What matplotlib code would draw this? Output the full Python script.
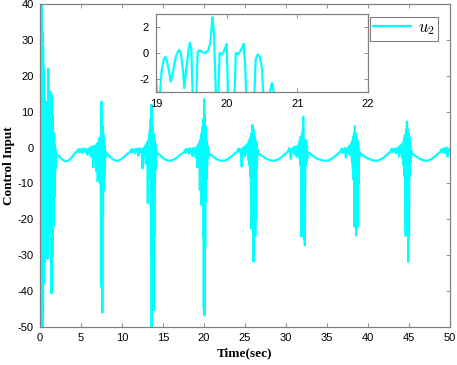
import numpy as np
import matplotlib.pyplot as plt

plt.rcParams['font.family'] = ['Liberation Sans', 'DejaVu Sans']
plt.rcParams['mathtext.fontset'] = 'cm'
plt.rcParams['axes.unicode_minus'] = False

# control signal u2, one burst cycle per pair of lists
t_c0 = [0.00, 0.02, 0.04, 0.06, 0.08, 0.10, 0.12, 0.14, 0.16, 0.18, 0.20, 0.22, 0.24, 0.26,
        0.28, 0.30, 0.32, 0.34, 0.36, 0.38, 0.40, 0.42, 0.44, 0.46, 0.48, 0.50, 0.52, 0.54,
        0.56, 0.58, 0.60, 0.62, 0.64, 0.66, 0.68, 0.70, 0.72, 0.74, 0.76, 0.78, 0.80, 0.83,
        0.86, 0.89, 0.92, 0.95, 0.98, 1.01, 1.04, 1.07, 1.10, 1.13, 1.16, 1.19, 1.22, 1.25,
        1.28, 1.31, 1.34, 1.37, 1.40, 1.43, 1.46, 1.49, 1.52, 1.55, 1.58, 1.61, 1.64, 1.67,
        1.70, 1.73, 1.76, 1.79, 1.82, 1.85, 1.88,
        1.91, 1.95, 2.05, 2.2, 2.4, 2.6, 2.8, 3.0, 3.2, 3.4, 3.6, 3.8, 4.0, 4.2, 4.4, 4.6,
        4.7, 4.8, 4.9, 5.0, 5.1, 5.2, 5.3, 5.4, 5.5, 5.6, 5.7, 5.8, 5.9, 6.0, 6.1, 6.2, 6.3,
        6.4, 6.5, 6.6, 6.7]
u_c0 = [0, 45, -55, 44, -55, 41, -55, 38, -52, 42, -55, 35, -50, 30, -52, 25, -40, 32, -45,
        28, -32, 18, -38, 22, -22, 12.8, -30, 10, -20, 14, -32, 8, -25, 12.8, -12, 6, -18, 9,
        -20, 4, -15, 3, -10, 5, -31, 8, -20, 22, -24, 6, -14, 10, -8, 12, -24, 6, -12, 15.6,
        -18, 8, -40.6, 14.6, -12, 5, -30.5, 9, -16, 3, -22, 2, -9, 4, -14, 1, -11.5, 0, -6,
        -1, -1.8, -2.0, -2.2, -2.6, -3.1, -3.5, -3.7, -3.8, -3.7, -3.4, -2.9, -2.3, -1.7,
        -1.2, -1.0,
        -0.4, -1.3, -0.7, -1.2, -0.3, -1.5, -0.5, -1.0, -0.2, -1.4, -0.6, -2.0, -0.3, -1.1,
        -0.1, -2.5, 0.3, -1.0, -5.5, 0.5, -2.0]

t_c1 = [6.8, 6.85, 6.9, 6.95, 7.0, 7.05, 7.1, 7.15, 7.2, 7.25, 7.3, 7.35, 7.4, 7.44, 7.48,
        7.52, 7.56, 7.60, 7.64, 7.68, 7.72, 7.76, 7.80, 7.84, 7.88, 7.92, 7.96, 8.0, 8.05,
        8.3, 8.6, 8.9, 9.3, 9.7, 10.1, 10.5, 10.8, 11.0, 11.1, 11.2, 11.3, 11.4, 11.5, 11.6,
        11.7, 11.8, 11.9, 12.0, 12.1, 12.2, 12.3]
u_c1 = [-0.5, -6.7, 0.8, -3, 1.2, -9.5, 0.5, -4, 2.5, -7, 1.5, -10, 3, -38.8, 12.8, -25, 8,
        -46, 6.2, -19, 4, -12, 2, -8, 0.5, -5, -1, -2.5, -1.6,
        -2.0, -2.7, -3.3, -3.7, -3.5, -2.9, -2.1, -1.5, -1.2, -0.6, -1.3, -0.4, -1.1, -0.7,
        -1.6, -0.3, -1.0, -0.5, -2.2, -0.2, -1.2, -0.4]

t_c2 = [12.4, 12.5, 12.6, 12.7, 12.8, 12.9, 13.0, 13.05, 13.1, 13.15, 13.2, 13.25, 13.3,
        13.35, 13.4, 13.45, 13.5, 13.54, 13.58, 13.62, 13.66, 13.70, 13.74, 13.78, 13.82,
        13.86, 13.90, 13.94, 13.98, 14.02, 14.06, 14.10, 14.15, 14.2, 14.3,
        14.6, 14.9, 15.3, 15.8, 16.3, 16.7, 17.1, 17.4, 17.6, 17.7, 17.8, 17.9, 18.0, 18.1,
        18.2, 18.3, 18.4, 18.5, 18.6, 18.7, 18.8]
u_c2 = [-0.8, -5.8, -0.2, -2.5, 0.4, -4.5, 1.0, -3, 1.5, -15.5, 2.0, -6, 3.5, -9, 5, -4, 8,
        -30, 11.9, -55, 9, -22, 6, -14, 4, -45.3, 3, -25, 2, -10, 1, -6, -0.5, -2.5, -1.6,
        -2.0, -2.7, -3.4, -3.7, -3.4, -2.8, -2.0, -1.5, -1.2, -0.7, -1.4, -0.3, -1.0, -0.5,
        -1.7, -0.2, -1.1, -0.6, -2.4, -0.1, -1.0]

t_c3 = [18.9, 19.0, 19.1, 19.2, 19.3, 19.4, 19.45, 19.5, 19.55, 19.6, 19.65, 19.7, 19.75,
        19.8, 19.85, 19.9, 19.94, 19.98, 20.02, 20.06, 20.10, 20.14, 20.18, 20.22, 20.26,
        20.30, 20.34, 20.38, 20.42, 20.46, 20.5, 20.55, 20.6, 20.7,
        21.0, 21.4, 21.8, 22.3, 22.8, 23.3, 23.7, 24.0]
u_c3 = [-0.6, -2.8, 0.2, -5.5, 0.8, -3.5, 1.5, -11.8, 2.2, -6, 3.5, -16, 4.5, -9, 6, -25, 8,
        -45, 13.5, -46.7, 9, -28, 6, -15, 4, -9, 2, -5, 0.5, -3, -0.8, -2.2, -1.4, -1.8,
        -2.3, -3.0, -3.5, -3.7, -3.4, -2.6, -1.8, -1.2]

t_c4 = [24.1, 24.2, 24.3, 24.4, 24.5, 24.6, 24.7, 24.8, 24.9, 25.0, 25.1, 25.2, 25.3, 25.4,
        25.5, 25.55, 25.6, 25.65, 25.7, 25.75, 25.8, 25.85, 25.9, 25.95, 26.0, 26.05, 26.1,
        26.15, 26.2, 26.25, 26.3, 26.35, 26.4, 26.45, 26.5, 26.6,
        27.0, 27.5, 28.0, 28.5, 29.0, 29.5, 29.9, 30.2]
u_c4 = [-0.9, -0.3, -1.2, -0.5, -1.5, -5.3, -0.2, -1.8, 0.2, -2.5, 0.5, -1.5, 1.0, -3.5,
        1.8, -5, 2.5, -8, 3.0, -22.5, 4, -10, 6.3, -15, 4.5, -31.8, 4.9, -12, 3, -24.8, 2,
        -20.2, 1, -6, -0.5, -1.5,
        -2.2, -3.0, -3.5, -3.7, -3.4, -2.6, -1.8, -1.2]

t_c5 = [30.3, 30.4, 30.5, 30.6, 30.7, 30.8, 30.9, 31.0, 31.1, 31.2, 31.3, 31.4, 31.5, 31.6,
        31.65, 31.7, 31.75, 31.8, 31.85, 31.9, 31.95, 32.0, 32.05, 32.1, 32.15, 32.2, 32.25,
        32.3, 32.35, 32.4, 32.45, 32.5, 32.55, 32.6, 32.7, 32.8,
        33.2, 33.7, 34.3, 34.9, 35.4, 35.9, 36.3, 36.6]
u_c5 = [-0.8, -0.2, -1.4, -3.2, -0.4, -1.0, 0.0, -1.8, 0.3, -1.0, -2.5, 0.5, -1.2, 1.5, -3,
        2.0, -5, 3, -8, -24.8, 4, -12, 5, 8.6, 3, -25.4, 2, -27.2, 1.5, -5, 2, -4, 0.5, -3,
        -1.5, -1.4,
        -2.2, -3.0, -3.5, -3.7, -3.4, -2.6, -1.8, -1.2]

t_c6 = [36.7, 36.8, 36.9, 37.0, 37.1, 37.2, 37.3, 37.4, 37.5, 37.6, 37.7, 37.8, 37.9, 38.0,
        38.05, 38.1, 38.15, 38.2, 38.25, 38.3, 38.35, 38.4, 38.45, 38.5, 38.55, 38.6, 38.65,
        38.7, 38.75, 38.8, 38.85, 38.9, 39.0, 39.1,
        39.4, 39.9, 40.5, 41.0, 41.5, 42.0, 42.4, 42.7]
u_c6 = [-0.9, -0.3, -1.5, -0.6, -1.1, -0.1, -2.8, -0.5, -1.3, 0.2, -1.8, 0.6, -2.2, 1.2, -4,
        2, -6, 3, -9, 4, -22, 6, -12, 4, -24.5, 3, -8, 2, -22, 1, -10, -0.5, -2.5, -1.6,
        -2.2, -3.0, -3.5, -3.7, -3.4, -2.6, -1.8, -1.2]

t_c7 = [42.8, 42.9, 43.0, 43.1, 43.2, 43.3, 43.4, 43.5, 43.6, 43.7, 43.8, 43.9, 44.0, 44.1,
        44.2, 44.3, 44.35, 44.4, 44.45, 44.5, 44.55, 44.6, 44.65, 44.7, 44.75, 44.8, 44.85,
        44.9, 44.95, 45.0, 45.05, 45.1, 45.15, 45.2, 45.3, 45.4,
        45.7, 46.2, 46.7, 47.1, 47.6, 48.1, 48.5, 48.8, 48.9, 49.0, 49.1, 49.2, 49.3, 49.4,
        49.5, 49.6, 49.7, 49.8, 49.9, 50.0]
u_c7 = [-0.9, -0.3, -1.3, -0.5, -1.0, -0.2, -1.6, -0.4, -1.2, 0.1, -2.5, 0.4, -1.5, 0.8, -3,
        1.5, -5, 2.5, -8, 3.5, -14, -24.6, 5, -10, 7.2, -12, 5, -31.8, 4, -24.6, 3, -8, 1.5,
        -4, -1.0, -1.6,
        -2.2, -3.0, -3.5, -3.7, -3.4, -2.6, -1.8, -1.2, -0.8, -0.4, -1.3, -0.6, -0.2, -1.5,
        -0.5, 0.0, -2.5, -0.3, -1.0, -0.5]

# zoomed view, 19..22 s
t_zoom = [19.00, 19.02, 19.05, 19.08, 19.11, 19.13, 19.15, 19.18, 19.21, 19.24, 19.28,
          19.31, 19.33, 19.35, 19.38, 19.40, 19.43, 19.46, 19.48, 19.50, 19.52, 19.57,
          19.59, 19.62, 19.66, 19.70, 19.74, 19.77, 19.79, 19.80, 19.82, 19.85, 19.88,
          19.90, 19.93, 19.96, 19.98, 20.00, 20.02, 20.11, 20.13, 20.16, 20.19, 20.22,
          20.24, 20.26, 20.28, 20.39, 20.41, 20.44, 20.47, 20.50, 20.52, 20.60, 20.62,
          20.64, 20.66, 20.68, 20.80, 22.00]
u_zoom = [-2.0, -3.5, -3.5, -1.4, -0.5, -0.3, -0.5, -1.3, -2.2, -1.5, -0.3, 0.1, 0.25, 0.0,
          -1.2, -2.7, -1.2, 0.2, 0.8, 0.3, -3.5, -3.5, 0.1, 0.2, 0.05, 0.0, 0.2, 0.8, 2.2,
          2.75, 1.5, -3.5, -3.5, 0.0, -0.1, 0.1, 0.4, 0.7, -3.5, -3.5, 0.0, -0.1, 0.1, 0.4,
          0.7, -0.8, -3.5, -3.5, -0.5, -0.1, -0.3, -1.2, -3.5, -3.5, -2.8, -2.3, -2.8, -3.5,
          -3.6, -3.7]

t = np.concatenate([t_c0, t_c1, t_c2, t_c3, t_c4, t_c5, t_c6, t_c7])
u = np.concatenate([u_c0, u_c1, u_c2, u_c3, u_c4, u_c5, u_c6, u_c7])

cyan = '#00ffff'
frame = '#808080'

fig = plt.figure(figsize=(4.57, 3.65), dpi=100)
ax = fig.add_axes([40 / 457, 38 / 365, 410 / 457, 323 / 365])
ax.plot(t, u, color=cyan, lw=1.6, label='$u_2$')
ax.set_xlim(0, 50)
ax.set_ylim(-50, 40)
ax.set_xticks(np.arange(0, 51, 5))
ax.set_yticks(np.arange(-50, 41, 10))
ax.tick_params(direction='in', top=True, right=True, length=3, width=0.6,
               color=frame, labelsize=8, pad=4.5)
for s in ax.spines.values():
    s.set_color(frame)
    s.set_linewidth(0.9)

ax.set_xlabel('Time(sec)', family='Liberation Serif', fontweight='bold', fontsize=9.5)
ax.set_ylabel('Control Input', family='Liberation Serif', fontweight='bold', fontsize=9.5)
ax.xaxis.set_label_coords(0.5, -0.062)
ax.yaxis.set_label_coords(-0.062, 0.5)

leg = ax.legend(loc='upper right', bbox_to_anchor=(438 / 457, 1 - 17 / 365),
                bbox_transform=fig.transFigure, borderaxespad=0, fontsize=12,
                fancybox=False, handlelength=2.3, handletextpad=0.4,
                borderpad=0.2, framealpha=1)
leg.get_frame().set_edgecolor(frame)
leg.get_frame().set_linewidth(0.8)

# inset
axi = fig.add_axes([156 / 457, (365 - 92) / 365, 212 / 457, 78 / 365])
axi.plot(t_zoom, u_zoom, color=cyan, lw=1.6)
axi.set_xlim(19, 22)
axi.set_ylim(-3, 3)
axi.set_xticks([19, 20, 21, 22])
axi.set_yticks([-2, 0, 2])
axi.tick_params(direction='in', top=True, right=True, length=3, width=0.6,
                color=frame, labelsize=8, pad=5)
for s in axi.spines.values():
    s.set_color(frame)
    s.set_linewidth(0.9)

fig.savefig('out.png', dpi=100)
